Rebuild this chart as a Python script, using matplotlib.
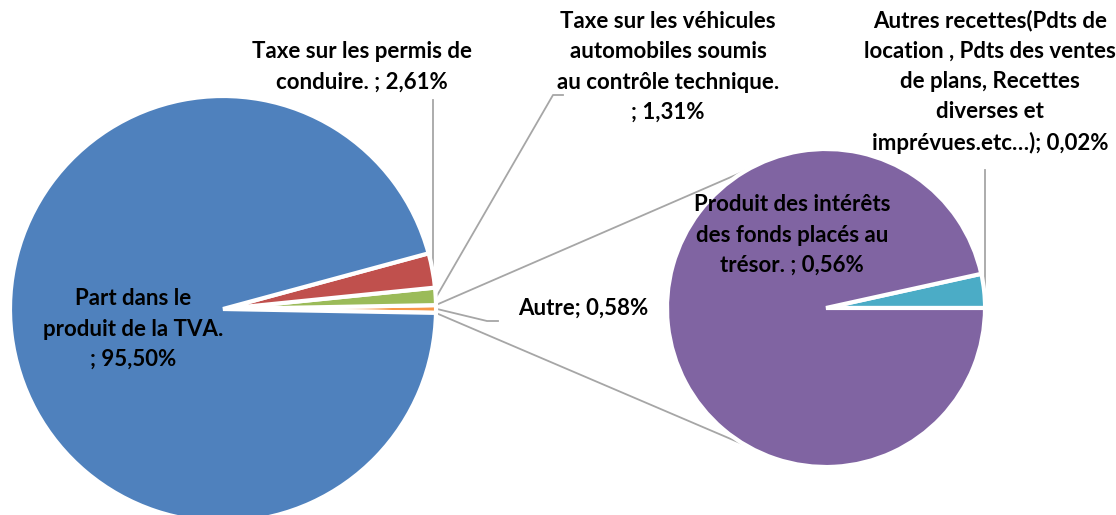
import numpy as np
import matplotlib
matplotlib.use("Agg")
import matplotlib.pyplot as plt

# ---- data ----
main_labels = ["Autre", "Taxe sur les véhicules\nautomobiles soumis\nau contrôle technique.",
               "Taxe sur les permis de\nconduire.", "Part dans le\nproduit de la TVA."]
main_values = [0.58, 1.31, 2.61, 95.50]
main_texts = ["0,58%", "1,31%", "2,61%", "95,50%"]
main_colors = ["#F79646", "#9BBB59", "#C0504D", "#4F81BD"]

sub_labels = ["Autres recettes(Pdts de\nlocation , Pdts des ventes\nde plans, Recettes\ndiverses et\nimprévues.etc…)",
              "Produit des intérêts\ndes fonds placés au\ntrésor."]
sub_values = [0.02, 0.56]
sub_texts = ["0,02%", "0,56%"]
sub_colors = ["#4BACC6", "#8064A2"]

W, H = 1116, 515
fig = plt.figure(figsize=(W / 100, H / 100), dpi=100)
ax = fig.add_axes([0, 0, 1, 1])

FONT = ["Lato", "DejaVu Sans"]
FS = 16
LS = 1.55
GRAY = "#A6A6A6"

# main pie
c1 = (223, 206)
r1 = 213
other_frac = main_values[0] / sum(main_values)
start1 = -other_frac * 360 / 2
exp1 = [0.04, 0.04, 0.04, 0.0]
w1, _ = ax.pie(main_values, colors=main_colors, startangle=start1, counterclock=True,
               center=c1, radius=r1, explode=exp1, frame=True,
               wedgeprops=dict(edgecolor="white", linewidth=3.0))

# sub pie
c2 = (826, 207)
r2 = 159
exp2 = [0.05, 0.0]
w2, _ = ax.pie(sub_values, colors=sub_colors, startangle=0, counterclock=True,
               center=c2, radius=r2, explode=exp2, frame=True,
               wedgeprops=dict(edgecolor="white", linewidth=3.0))
ax.set_xlim(0, W)
ax.set_ylim(0, H)
ax.set_aspect("equal")
ax.axis("off")

def pt(w, ang, rr=None):
    cx, cy = w.center
    rr = w.r if rr is None else rr
    a = np.deg2rad(ang)
    return cx + rr * np.cos(a), cy + rr * np.sin(a)

# connector lines between the "Autre" slice and the sub pie
wo = w1[0]
p_top = pt(wo, wo.theta2)
p_bot = pt(wo, wo.theta1)
q_top = (c2[0] + r2 * np.cos(np.deg2rad(120)), c2[1] + r2 * np.sin(np.deg2rad(120)))
q_bot = (c2[0] + r2 * np.cos(np.deg2rad(-120)), c2[1] + r2 * np.sin(np.deg2rad(-120)))
ax.plot([p_top[0] + 2, q_top[0]], [p_top[1] + 1, q_top[1]], color=GRAY, lw=1.3, zorder=0)
ax.plot([p_bot[0] + 2, q_bot[0]], [p_bot[1] - 1, q_bot[1]], color=GRAY, lw=1.3, zorder=0)

def mid(w):
    return (w.theta1 + w.theta2) / 2

# leader lines
def leader(w, pts):
    a = pt(w, mid(w), w.r + 1)
    xs = [a[0]] + [p[0] for p in pts]
    ys = [a[1]] + [p[1] for p in pts]
    ax.plot(xs, ys, color=GRAY, lw=1.3, zorder=0)

ar = pt(w1[2], mid(w1[2]), w1[2].r + 1)
leader(w1[2], [(ar[0], 415)])
leader(w1[1], [(553, 420), (563, 420)])
leader(w1[0], [(487, 194), (498, 194)])
at = pt(w2[0], mid(w2[0]), w2[0].r + 1)
leader(w2[0], [(at[0], 345)])

def lab(x, y, s, ha="center"):
    ax.text(x, y, s, ha=ha, va="center", fontsize=FS, fontweight="bold",
            family=FONT, linespacing=LS, color="black")

lab(133, H - 329, main_labels[3] + "\n; " + main_texts[3])
lab(362, H - 67, main_labels[2] + " ; " + main_texts[2])
lab(668, H - 67, main_labels[1] + "\n; " + main_texts[1])
lab(583, H - 308, main_labels[0] + "; " + main_texts[0])
lab(990, H - 82, sub_labels[0] + "; " + sub_texts[0])
lab(792, H - 235, sub_labels[1] + " ; " + sub_texts[1])

fig.savefig("out.png", dpi=100, facecolor="white")
